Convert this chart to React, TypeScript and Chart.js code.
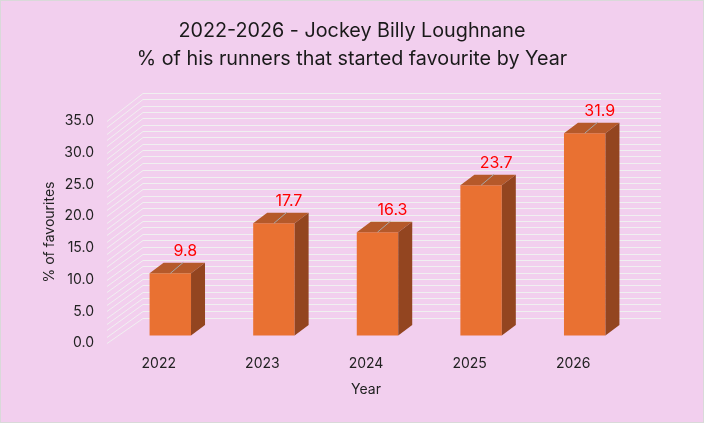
import { useEffect, useRef } from 'react';
import { Chart, registerables } from 'chart.js';

Chart.register(...registerables);

// data
const years = ['2022', '2023', '2024', '2025', '2026'];
const favouritePct = [9.8, 17.7, 16.3, 23.7, 31.9];
const titleLines = ['2022-2026 - Jockey Billy Loughnane', '% of his runners that started favourite by Year'];
const yMin = 0;
const yMax = 35;
const yTickStep = 5;
const gridStep = 1;

const FONT = 'Inter, "Liberation Sans", sans-serif';
const TEXT = '#222222';
const FRONT = '#e97132';
const TOP = '#b5592a';
const SIDE = '#934520';

// 3d look: back wall offset, bar offset inside the depth, bar own depth
const WALL_DX = 36;
const WALL_DY = -26;
const WALL_GROW = 3; // back wall is a touch taller (perspective)
const BAR_DX = 11.5;
const BAR_DY = -7.5;
const DEPTH_DX = 14;
const DEPTH_DY = -10.5;

const bar3d = {
    id: 'bar3d',
    beforeDatasetsDraw(chart: any) {
        const { ctx, chartArea: a, scales: { y } } = chart;
        ctx.save();
        ctx.strokeStyle = '#f0f0f0';
        ctx.lineWidth = 1;
        for (let v = yMin; v <= yMax; v += gridStep) {
            const py = Math.round(y.getPixelForValue(v)) + 0.5;
            const by = Math.round(py + WALL_DY - WALL_GROW * (v - yMin) / (yMax - yMin));
            ctx.beginPath();
            ctx.moveTo(a.left, py);
            ctx.lineTo(a.left + WALL_DX, by + 0.5);
            ctx.lineTo(a.right + WALL_DX, by + 0.5);
            ctx.stroke();
        }
        ctx.restore();
        ctx.save();
        ctx.translate(BAR_DX, BAR_DY);
    },
    afterDatasetsDraw(chart: any) {
        const { ctx } = chart;
        const meta = chart.getDatasetMeta(0);
        meta.data.forEach((el: any, i: number) => {
            const { x, y, base, width } = el.getProps(['x', 'y', 'base', 'width'], true);
            const l = x - width / 2;
            const r = x + width / 2;
            ctx.fillStyle = TOP;
            ctx.beginPath();
            ctx.moveTo(l, y);
            ctx.lineTo(r, y);
            ctx.lineTo(r + DEPTH_DX, y + DEPTH_DY);
            ctx.lineTo(l + DEPTH_DX, y + DEPTH_DY);
            ctx.closePath();
            ctx.fill();
            ctx.fillStyle = SIDE;
            ctx.beginPath();
            ctx.moveTo(r, y);
            ctx.lineTo(r + DEPTH_DX, y + DEPTH_DY);
            ctx.lineTo(r + DEPTH_DX, base + DEPTH_DY);
            ctx.lineTo(r, base);
            ctx.closePath();
            ctx.fill();

            // leader line + value label
            ctx.strokeStyle = '#a6a6a6';
            ctx.lineWidth = 1;
            ctx.beginPath();
            ctx.moveTo(x, y);
            ctx.lineTo(x + 13, y - 11);
            ctx.stroke();
            ctx.fillStyle = '#ff0000';
            ctx.font = '16px ' + FONT;
            ctx.textAlign = 'center';
            ctx.textBaseline = 'middle';
            ctx.fillText(favouritePct[i].toFixed(1), x + 15, y - 22);
        });
        ctx.restore();
    },
};

export default function App() {
    const canvasRef = useRef<HTMLCanvasElement>(null);
    useEffect(() => {
        if (canvasRef.current === null) return;
        const chart = new Chart(canvasRef.current, {
            type: 'bar',
            data: {
                labels: years,
                datasets: [{
                    data: favouritePct,
                    backgroundColor: FRONT,
                    borderWidth: 0,
                    categoryPercentage: 1,
                    barPercentage: 0.4,
                    clip: false as any,
                }],
            },
            options: {
                responsive: false,
                animation: false,
                layout: { padding: 0 },
                plugins: {
                    legend: { display: false },
                    tooltip: { enabled: false },
                    title: {
                        display: true,
                        text: titleLines,
                        color: '#1a1a1a',
                        font: { family: FONT, size: 19.75, weight: 'normal', lineHeight: 1.42 },
                        padding: { top: 16, bottom: 48 },
                    },
                },
                scales: {
                    x: {
                        grid: { display: false, drawTicks: false },
                        border: { display: false },
                        ticks: { color: TEXT, font: { family: FONT, size: 14 }, padding: 12 },
                        title: {
                            display: true, text: 'Year', color: TEXT,
                            font: { family: FONT, size: 14 },
                            padding: { top: 0, bottom: 24 },
                        },
                        afterFit: (s: any) => { s.height = 79; },
                    },
                    y: {
                        min: yMin,
                        max: yMax,
                        grid: { display: false, drawTicks: false },
                        border: { display: false },
                        ticks: {
                            stepSize: yTickStep, color: TEXT, padding: 13,
                            font: { family: FONT, size: 14 },
                            callback: (v: any) => Number(v).toFixed(1),
                        },
                        title: {
                            display: true, text: '% of favourites', color: TEXT,
                            font: { family: FONT, size: 14 },
                            padding: { top: 40, bottom: 0 },
                        },
                        afterFit: (s: any) => { s.width = 106; },
                    },
                    // empty right-hand axis: room for the back wall, keeps the title centred on the canvas
                    yRoom: {
                        position: 'right',
                        grid: { display: false, drawTicks: false },
                        border: { display: false },
                        ticks: { display: false },
                        afterFit: (s: any) => { s.width = 78; },
                    },
                },
            },
            plugins: [bar3d],
        });
        return () => {
            chart.destroy();
        };
    }, []);

    return (
        <div style={{
            position: 'fixed', left: 0, top: 0, width: 704, height: 423,
            boxSizing: 'border-box', border: '1px solid #d9d9d9', background: '#f2cfee',
        }}>
            <canvas ref={canvasRef} width={702} height={421} style={{ display: 'block' }}></canvas>
        </div>
    );
}
